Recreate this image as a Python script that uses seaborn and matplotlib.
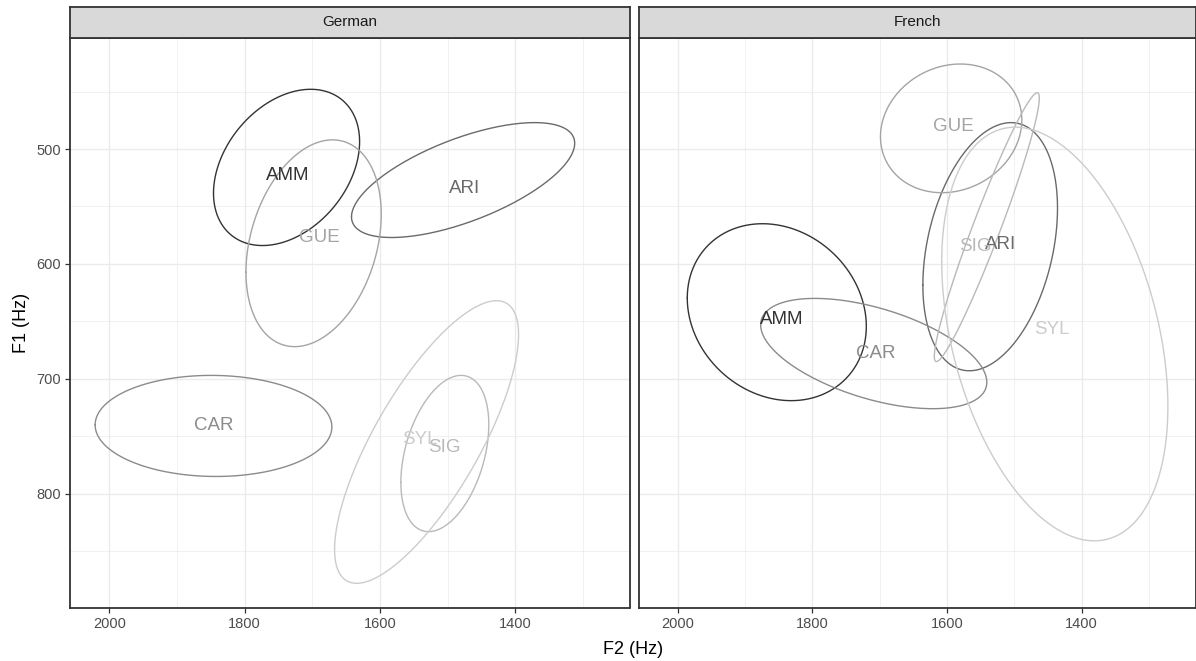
import numpy as np
import pandas as pd
import matplotlib
matplotlib.use("Agg")
import matplotlib.pyplot as plt
import seaborn as sns

# speakers and facets
speakers = ["AMM", "ARI", "CAR", "GUE", "SIG", "SYL"]
languages = ["German", "French"]

# ellipse summaries (Hz): centre, half-extent, correlation
f2_centre = {"German": [1738, 1477, 1846, 1698, 1504, 1531],
             "French": [1853, 1536, 1709, 1594, 1541, 1440]}
f1_centre = {"German": [516, 527, 741, 582, 765, 755],
             "French": [642, 585, 678, 482, 568, 661]}
f2_half = {"German": [108, 165, 175, 100, 65, 136],
           "French": [133, 100, 168, 105, 78, 168]}
f1_half = {"German": [68, 50, 44, 90, 68, 123],
           "French": [77, 108, 48, 56, 117, 180]}
corr = {"German": [0.33, 0.64, -0.02, 0.28, 0.37, 0.76],
        "French": [-0.16, 0.31, -0.52, 0.13, 0.96, -0.35]}

# label positions (Hz)
label_f2 = {"German": [1737, 1475, 1845, 1689, 1505, 1541],
            "French": [1845, 1520, 1706, 1590, 1558, 1444]}
label_f1 = {"German": [523, 534, 741, 577, 760, 753],
            "French": [648, 583, 678, 480, 585, 657]}

greys = ["#333333", "#6A6A6A", "#8B8B8B", "#A4A4A4", "#B9B9B9", "#CCCCCC"]
palette = dict(zip(speakers, greys))

# build ellipse outlines
rows = []
t = np.linspace(0, 2 * np.pi, 241)
for lang in languages:
    for i, spk in enumerate(speakers):
        r = corr[lang][i]
        x = f2_centre[lang][i] + f2_half[lang][i] * np.cos(t)
        y = f1_centre[lang][i] + f1_half[lang][i] * (r * np.cos(t) + np.sqrt(1 - r ** 2) * np.sin(t))
        for k in range(len(t)):
            rows.append((lang, spk, k, x[k], y[k]))
df = pd.DataFrame(rows, columns=["language", "speaker", "order", "F2", "F1"])

sns.set_theme(style="white")
plt.rcParams["font.family"] = ["Liberation Sans", "DejaVu Sans"]

fig = plt.figure(figsize=(11.96, 6.61), dpi=100)
W, H = 1196, 661
panels = [(70.1, 629.5), (638.8, 1195.5)]
top_px, bot_px, strip_top = 37.7, 607.7, 7.3

for j, lang in enumerate(languages):
    x0, x1 = panels[j]
    ax = fig.add_axes([x0 / W, 1 - bot_px / H, (x1 - x0) / W, (bot_px - top_px) / H])
    sub = df[df["language"] == lang]
    sns.lineplot(data=sub, x="F2", y="F1", hue="speaker", palette=palette,
                 sort=False, estimator=None, units="speaker", legend=False,
                 linewidth=1.0, ax=ax)
    for i, spk in enumerate(speakers):
        ax.text(label_f2[lang][i], label_f1[lang][i], spk, color=greys[i],
                fontsize=13.5, ha="center", va="center")
    ax.set_xlim(2058, 1231)
    ax.set_ylim(899.2, 403.1)
    ax.set_xticks([2000, 1800, 1600, 1400])
    ax.set_xticks([1900, 1700, 1500, 1300], minor=True)
    ax.set_yticks([500, 600, 700, 800])
    ax.set_yticks([450, 550, 650, 750, 850], minor=True)
    ax.grid(which="major", color="#EBEBEB", linewidth=1.0)
    ax.grid(which="minor", color="#EBEBEB", linewidth=0.5)
    ax.set_axisbelow(True)
    ax.set_xlabel("")
    ax.set_ylabel("")
    for s in ax.spines.values():
        s.set_color("#333333")
        s.set_linewidth(1.3)
    ax.tick_params(which="major", direction="out", length=3.5, width=0.9,
                   color="#333333", labelcolor="#4D4D4D", labelsize=10.5, pad=3)
    ax.tick_params(which="minor", length=0)
    ax.tick_params(axis="x", bottom=True)
    if j == 0:
        ax.tick_params(axis="y", left=True)
    else:
        ax.tick_params(axis="y", left=False, labelleft=False)

    # facet strip
    sax = fig.add_axes([x0 / W, 1 - top_px / H, (x1 - x0) / W, (top_px - strip_top) / H])
    sax.set_facecolor("#D9D9D9")
    sax.set_xticks([])
    sax.set_yticks([])
    for s in sax.spines.values():
        s.set_color("#333333")
        s.set_linewidth(1.3)
    sax.text(0.5, 0.5, lang, ha="center", va="center", fontsize=11,
             color="#1A1A1A", transform=sax.transAxes)

fig.text(633.5 / W, 1 - 650 / H, "F2 (Hz)", ha="center", va="center", fontsize=13, color="black")
fig.text(21 / W, 1 - 322.7 / H, "F1 (Hz)", ha="center", va="center", rotation=90,
         fontsize=13, color="black")

fig.savefig("out.png", dpi=100, facecolor="white")
